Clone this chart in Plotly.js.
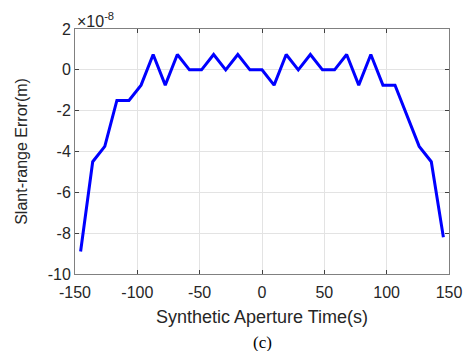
<!DOCTYPE html>
<html><head><meta charset="utf-8">
<script src="https://cdn.plot.ly/plotly-3.0.1.min.js"></script>
<style>html,body{margin:0;padding:0;background:#fff}#chart{width:469px;height:351px}</style>
</head><body><div id="chart"></div>
<script>
// Synthetic aperture time (s)
var timeS = [-145.5, -135.8, -126.1, -116.4, -106.7, -97.0, -87.3, -77.6, -67.9, -58.2,
             -48.5, -38.8, -29.1, -19.4, -9.7, 0, 9.7, 19.4, 29.1, 38.8,
             48.5, 58.2, 67.9, 77.6, 87.3, 97.0, 106.7, 116.4, 126.1, 135.8, 145.5];
// Slant-range error, in units of 1e-8 m
var errorE8 = [-8.9, -4.5, -3.75, -1.5, -1.5, -0.75, 0.75, -0.75, 0.75, 0,
               0, 0.75, 0, 0.75, 0, 0, -0.75, 0.75, 0, 0.75,
               0, 0, 0.75, -0.75, 0.75, -0.75, -0.75, -2.25, -3.75, -4.5, -8.2];
var xTicks = [-150, -100, -50, 0, 50, 100, 150];
var yTicks = [-10, -8, -6, -4, -2, 0, 2];

var trace = {x: timeS, y: errorE8, type: 'scatter', mode: 'lines',
  line: {color: '#0000ff', width: 3}, hoverinfo: 'skip'};

var ff = 'Arial, Liberation Sans, sans-serif';
var axFont = {family: ff, size: 16, color: '#262626'};
var layout = {
  width: 469, height: 351,
  margin: {l: 75, r: 20, t: 29, b: 77, pad: 0},
  paper_bgcolor: '#fff', plot_bgcolor: '#fff',
  showlegend: false,
  xaxis: {range: [-150, 150], tickvals: xTicks, ticktext: xTicks.map(String),
    showgrid: true, gridcolor: '#e3e3e3', gridwidth: 1, zeroline: false,
    showline: true, linecolor: '#808080', linewidth: 1, mirror: 'ticks',
    ticks: 'inside', ticklen: 4, tickcolor: '#404040',
    tickfont: axFont, ticklabelstandoff: 4,
    title: {text: 'Synthetic Aperture Time(s)', font: {family: ff, size: 18, color: '#262626'}, standoff: 10}},
  yaxis: {range: [-10, 2], tickvals: yTicks, ticktext: yTicks.map(String),
    showgrid: true, gridcolor: '#e3e3e3', gridwidth: 1, zeroline: false,
    showline: true, linecolor: '#808080', linewidth: 1, mirror: 'ticks',
    ticks: 'inside', ticklen: 4, tickcolor: '#404040',
    tickfont: axFont,
    title: {text: 'Slant-range Error(m)', font: {family: ff, size: 16, color: '#262626'}, standoff: 16}},
  annotations: [
    {text: '×10<sup>-8</sup>', xref: 'paper', yref: 'paper', x: 0, y: 1, xanchor: 'left', yanchor: 'bottom',
     showarrow: false, font: {family: ff, size: 16, color: '#262626'}, yshift: -3},
    {text: '(c)', xref: 'paper', yref: 'paper', x: 0.5, y: 0, xanchor: 'center', yanchor: 'middle',
     showarrow: false, yshift: -68, borderpad: 0, font: {family: 'Liberation Serif, Times New Roman, serif', size: 17, color: '#000'}}
  ]
};
Plotly.newPlot('chart', [trace], layout, {displayModeBar: false, staticPlot: true});
</script></body></html>
